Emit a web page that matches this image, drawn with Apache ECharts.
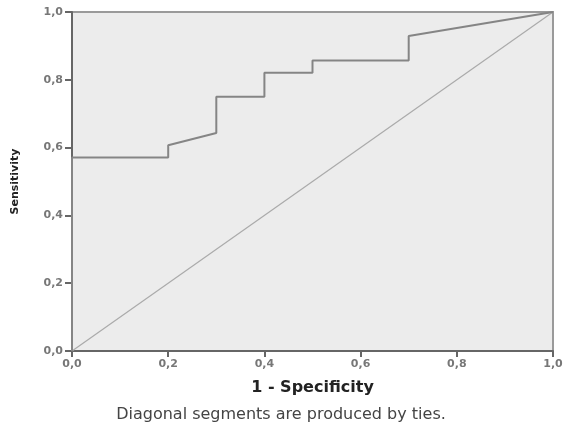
<!DOCTYPE html>
<html>
<head>
<meta charset="utf-8">
<script src="https://cdn.jsdelivr.net/npm/echarts@6/dist/echarts.min.js"></script>
<style>
  html, body { margin: 0; padding: 0; background: #fff; }
  #chart { width: 564px; height: 426px; }
</style>
</head>
<body>
<div id="chart"></div>
<script>
// ROC curve points (1 - specificity, sensitivity)
const fpr = [0, 0, 0.2, 0.2, 0.3, 0.3, 0.4, 0.4, 0.5, 0.5, 0.7, 0.7, 1.0];
const tpr = [0, 0.571, 0.571, 0.607, 0.643, 0.75, 0.75, 0.821, 0.821, 0.857, 0.857, 0.929, 1.0];
// reference diagonal
const diagX = [0, 1];
const diagY = [0, 1];

// SPSS style decimal comma
const fmt = (v) => v.toFixed(1).replace(".", ",");

const chart = echarts.init(document.getElementById("chart"));
chart.setOption({
  animation: false,
  textStyle: { fontFamily: "DejaVu Sans, sans-serif" },
  title: {
    text: "Diagonal segments are produced by ties.",
    left: 281,
    textAlign: "center",
    top: 407,
    padding: 0,
    textStyle: { fontSize: 16, fontWeight: "normal", color: "#444" },
  },
  grid: {
    left: 72,
    right: 11,
    top: 12,
    bottom: 75,
    outerBoundsMode: "none",
    show: true,
    backgroundColor: "#ececec",
    borderColor: "#9a9a9a",
    borderWidth: 2,
  },
  xAxis: {
    type: "value",
    min: 0,
    max: 1,
    interval: 0.2,
    name: "1 - Specificity",
    nameLocation: "middle",
    nameGap: 29,
    nameTextStyle: { fontSize: 16, fontWeight: "bold", color: "#222" },
    axisLine: { lineStyle: { color: "#666", width: 2 } },
    axisTick: { show: true, length: 6, lineStyle: { color: "#666", width: 2 } },
    axisLabel: { formatter: fmt, fontSize: 11, color: "#777", margin: 8, fontWeight: "bold" },
    splitLine: { show: false },
  },
  yAxis: {
    type: "value",
    min: 0,
    max: 1,
    interval: 0.2,
    name: "Sensitivity",
    nameLocation: "middle",
    nameGap: 51,
    nameTextStyle: { fontSize: 11, fontWeight: "bold", color: "#222" },
    axisLine: { lineStyle: { color: "#666", width: 2 } },
    axisTick: { show: true, length: 7, lineStyle: { color: "#666", width: 2 } },
    axisLabel: { formatter: fmt, fontSize: 11, color: "#777", margin: 9, fontWeight: "bold" },
    splitLine: { show: false },
  },
  series: [
    {
      type: "line",
      data: diagX.map((x, i) => [x, diagY[i]]),
      symbol: "none",
      lineStyle: { color: "#aaaaaa", width: 1.2 },
      z: 2,
    },
    {
      type: "line",
      data: fpr.map((x, i) => [x, tpr[i]]),
      symbol: "none",
      lineStyle: { color: "#858585", width: 2 },
      z: 3,
    },
  ],
});
</script>
</body>
</html>
